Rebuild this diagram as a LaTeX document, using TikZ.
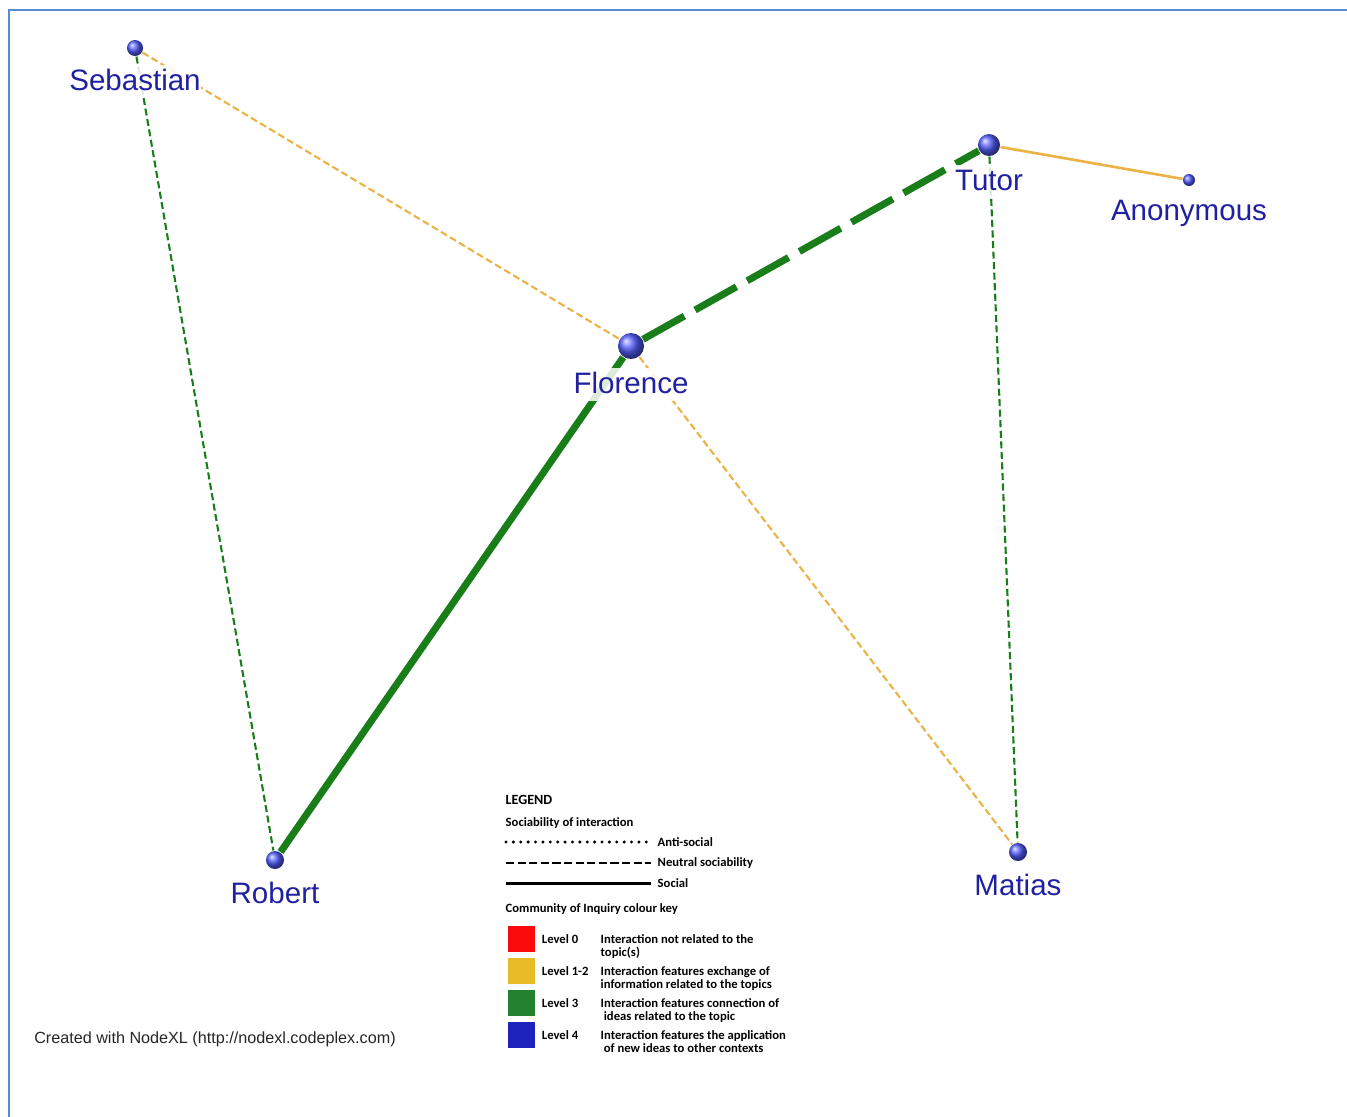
\documentclass[tikz,border=0pt]{standalone}
\usepackage{fontspec}
\setmainfont{Liberation Sans}
\newfontfamily\legendfont{Carlito}
\usetikzlibrary{backgrounds,positioning}
\definecolor{nodeblue}{RGB}{85,95,255}
\definecolor{labelblue}{RGB}{32,32,160}
\definecolor{coigreen}{RGB}{25,125,25}
\definecolor{coiorange}{RGB}{235,178,70}
\definecolor{framecol}{RGB}{85,140,210}
\definecolor{levelred}{RGB}{250,10,10}
\definecolor{levelyellow}{RGB}{232,188,40}
\definecolor{levelgreen}{RGB}{35,130,45}
\definecolor{levelblue}{RGB}{30,35,190}

\begin{document}
\begin{tikzpicture}
[
x=0.01cm, y=-0.01cm,
person/.style 2 args={circle,inner sep=0pt,minimum size=#1,shading=ball,ball color=nodeblue,
            label={[font=\fontsize{8.4}{10}\selectfont,text=labelblue,inner sep=0pt,
                    fill=white,fill opacity=0.85,text opacity=1,
                    text height=0.72em,text depth=0.2em,label distance=0.08cm]below:#2}},
lvltwo/.style={draw=coiorange},
lvlthree/.style={draw=coigreen},
faint/.style={line width=0.6pt},
heavy/.style={line width=2pt},
neutral/.style={dash pattern=on 2pt off 1pt},
neutralheavy/.style={dash pattern=on 13.5pt off 3.5pt},
lgd/.style={font=\legendfont\bfseries\fontsize{3.6}{3.7}\selectfont,inner sep=0pt},
keyline/.style={line width=0.75pt,shorten >=0.06cm},
swatch/.style={minimum size=0.26cm,inner sep=0pt},
]
\useasboundingbox (0,0) rectangle (1347,1117);
\draw[framecol,line width=0.55pt] (9,1117) -- (9,10) -- (1347,10);

%Place the nodes
\node[person={0.16cm}{Sebastian}] (seb) at (135,48) {};
\node[person={0.22cm}{Tutor}] (tut) at (989,145) {};
\node[person={0.12cm}{Anonymous}] (ano) at (1189,180) {};
\node[person={0.26cm}{Florence}] (flo) at (631,346) {};
\node[person={0.18cm}{Robert}] (rob) at (275,860) {};
\node[person={0.18cm}{Matias}] (mat) at (1018,852) {};

%Draw the connections
\begin{pgfonlayer}{background}
\draw[lvlthree,faint,neutral] (seb) to (rob);
\draw[lvltwo,faint,neutral] (seb) to (flo);
\draw[lvlthree,heavy,neutralheavy] (flo) to (tut);
\draw[lvlthree,heavy] (flo) to (rob);
\draw[lvltwo,faint,neutral] (flo) to (mat);
\draw[lvlthree,faint,neutral] (tut) to (mat);
\draw[lvltwo,line width=0.75pt] (tut) to (ano);
\end{pgfonlayer}

%Legend
\node[lgd,font=\legendfont\bfseries\fontsize{4}{5}\selectfont,anchor=west] (legend) at (505,800) {LEGEND};
\node[lgd,anchor=west] (socia) at (505,823) {Sociability of interaction};
\node[lgd,anchor=west] (anti) at (657,842) {Anti-social};
\node[lgd,anchor=west] (neut) at (657,863) {Neutral sociability};
\node[lgd,anchor=west] (soc) at (657,883) {Social};
\coordinate (antistart) at (506,842);
\coordinate (neutstart) at (506,863);
\coordinate (socstart) at (506,883);
\draw[keyline,line width=0.95pt,line cap=round,dash pattern=on 0pt off 2.1pt] (antistart) -- (anti.west);
\draw[keyline,line width=0.7pt,dash pattern=on 2.3pt off 1pt] (neutstart) -- (neut.west);
\draw[keyline,line width=0.85pt] (socstart) -- (soc.west);
\node[lgd,anchor=west] (coi) at (505,909) {Community of Inquiry colour key};
\foreach \col/\lvl/\txt [count=\i] in {
    levelred/Level 0/{Interaction not related to the\\topic(s)},
    levelyellow/Level 1-2/{Interaction features exchange of\\information related to the topics},
    levelgreen/Level 3/{Interaction features connection of\\\hspace{0.25em}ideas related to the topic},
    levelblue/Level 4/{Interaction features the application\\\hspace{0.25em}of new ideas to other contexts}}
{
    \node[swatch,fill=\col] (sq\i) at (521.5,{939+(\i-1)*32}) {};
    \node[lgd,right=0.06cm of sq\i] (lv\i) {\lvl};
    \node[lgd,align=left,anchor=north west] (desc\i) at (600,{934+(\i-1)*32}) {\txt};
}

\node[font=\fontsize{4.6}{5.5}\selectfont,text=black!85] (credit) at (215,1039) {Created with NodeXL (http://nodexl.codeplex.com)};
\end{tikzpicture}
\end{document}
